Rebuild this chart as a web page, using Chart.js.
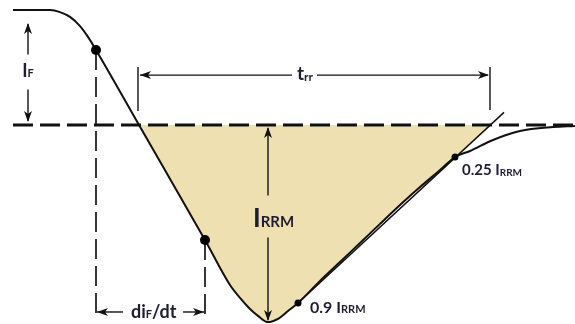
<!doctype html>
<html>
<head>
<title>Reverse recovery</title>
<script src="https://cdn.jsdelivr.net/npm/chart.js@4.4.1/dist/chart.umd.min.js"></script>
<style>
html, body { margin: 0; padding: 0; background: #fff; }
#wrap { width: 575px; height: 324px; }
</style>
</head>
<body>
<div id="wrap"><canvas id="canvas" width="575" height="324"></canvas></div>
<script>
// diode current during turn-off, t in ns, i in A
var timeNs   = [-12.6, -8.9, -7.9, -6.9, -5.9, -5.1, -4.3, 0, 6.6, 9.1, 10.1, 11.1, 11.9, 12.9, 13.9, 14.9, 15.9, 18.1, 20.1, 22.1, 24.1, 26.1, 28.1, 30.1, 31.6, 33.1, 35.4, 38.1, 41.4, 43.6];
var currentA = [5.0, 5.0, 4.91, 4.70, 4.30, 3.83, 3.26, 0, -5.0, -6.96, -7.52, -8.0, -8.30, -8.57, -8.43, -8.09, -7.74, -6.78, -5.96, -5.13, -4.30, -3.48, -2.70, -1.96, -1.39, -1.13, -0.65, -0.26, -0.09, -0.04];

// marked points: start/end of diF/dt, 0.9 IRRM, 0.25 IRRM
var dotTimes    = [-4.3, 6.6, 15.9, 31.6];
var dotCurrents = [3.26, -5.0, -7.74, -1.39];

// straight line through 0.9 and 0.25 IRRM, extended past zero
var tangentTimes    = [15.9, 36.5];
var tangentCurrents = [-7.74, 0.55];

var IF_A = 5.0;
var IRRM_A = 8.57;
var tRRM = 12.9;
var trrStart = 0;
var trrEnd = 35.1;

function pts(xs, ys) {
    var out = [];
    for (var k = 0; k < xs.length; k++) out.push({x: xs[k], y: ys[k]});
    return out;
}

// shaded charge area: curve from zero crossing to 0.25 IRRM, closed along the tangent
var shade = [{x: trrStart, y: 0}];
for (var k = 0; k < timeNs.length; k++) {
    if (timeNs[k] > trrStart && timeNs[k] <= dotTimes[3]) shade.push({x: timeNs[k], y: currentA[k]});
}
shade.push({x: trrEnd, y: 0});

var dimLow = -8.4;   // lower end of the vertical dashed guides

var ink = '#1e1e30';

var sketch = {
    id: 'sketch',
    afterDatasetsDraw: function(chart) {
        var ctx = chart.ctx, sx = chart.scales.x, sy = chart.scales.y;
        function px(t) { return sx.getPixelForValue(t); }
        function py(i) { return sy.getPixelForValue(i); }

        function seg(x1, y1, x2, y2) {
            ctx.beginPath(); ctx.moveTo(x1, y1); ctx.lineTo(x2, y2); ctx.stroke();
        }
        function head(x, y, dx, dy) {
            var len = 11, half = 4, notch = 3, nx = -dy, ny = dx;
            ctx.beginPath();
            ctx.moveTo(x, y);
            ctx.lineTo(x - dx * len + nx * half, y - dy * len + ny * half);
            ctx.lineTo(x - dx * (len - notch), y - dy * (len - notch));
            ctx.lineTo(x - dx * len - nx * half, y - dy * len - ny * half);
            ctx.closePath();
            ctx.fill();
        }
        function rich(parts, x, y, center) {
            var w = 0;
            parts.forEach(function(p) {
                ctx.font = '700 ' + p[1] + 'px Lato';
                w += ctx.measureText(p[0]).width;
            });
            if (center) x -= w / 2;
            parts.forEach(function(p) {
                ctx.font = '700 ' + p[1] + 'px Lato';
                ctx.fillText(p[0], x, y + (p[2] || 0));
                x += ctx.measureText(p[0]).width;
            });
        }

        ctx.save();
        ctx.strokeStyle = '#111';
        ctx.fillStyle = '#111';
        ctx.lineWidth = 1.4;

        var zero = py(0);

        // IF
        var xf = px(-11.1), top = py(IF_A), mid = (top + zero) / 2;
        seg(xf, top + 14, xf, mid - 13);
        head(xf, top + 13, 0, -1);
        seg(xf, mid + 22, xf, zero - 4);
        head(xf, zero - 3, 0, 1);

        // IRRM
        var xr = px(tRRM), bot = py(-IRRM_A), midr = (zero + bot) / 2;
        seg(xr, zero + 3, xr, midr - 28);
        head(xr, zero + 2, 0, -1);
        seg(xr, midr + 14, xr, bot - 2);
        head(xr, bot - 1, 0, 1);

        // trr
        var ya = py(2.17), x0 = px(trrStart) - 1, x1 = px(trrEnd), xl = px(15.8);
        seg(x0, ya - 8, x0, ya + 36);
        seg(x1, ya - 8, x1, ya + 35);
        seg(x0 + 2, ya, xl - 5, ya);
        seg(xl + 20, ya, x1 - 2, ya);
        head(x0 + 2, ya, -1, 0);
        head(x1 - 1, ya, 1, 0);

        // diF/dt
        var yd = py(-8.13), d0 = px(dotTimes[0]), d1 = px(dotTimes[1]);
        seg(d0 + 1, yd, d0 + 27, yd);
        seg(d1 - 22, yd, d1 - 1, yd);
        head(d0 + 1, yd, -1, 0);
        head(d1 - 1, yd, 1, 0);

        // labels
        ctx.fillStyle = ink;
        ctx.textBaseline = 'alphabetic';
        rich([['I', 18], ['F', 11]], xf, mid + 9, true);
        rich([['I', 26], ['RRM', 15]], xr - 15, midr + 3);
        rich([['t', 19], ['rr', 12, 1]], xl, ya + 5);
        rich([['di', 18], ['F', 11], ['/dt', 18]], d0 + 35, yd + 6);
        rich([['0.9 I', 16], ['RRM', 11]], px(dotTimes[2]) + 12, py(dotCurrents[2]) + 10);
        rich([['0.25 I', 15], ['RRM', 10, 1]], px(dotTimes[3]) + 7, py(dotCurrents[3]) + 18);
        ctx.restore();
    }
};

var config = {
    type: 'line',
    data: {
        datasets: [{
            data: shade,
            borderWidth: 0,
            pointRadius: 0,
            backgroundColor: 'rgb(239,224,178)',
            fill: 'origin',
            cubicInterpolationMode: 'monotone',
            order: 10
        }, {
            data: [{x: timeNs[0], y: 0}, {x: timeNs[timeNs.length - 1], y: 0}],
            borderColor: '#111',
            borderWidth: 3,
            borderDash: [20, 7],
            pointRadius: 0,
            order: 5
        }, {
            data: [{x: dotTimes[0], y: dotCurrents[0]}, {x: dotTimes[0], y: dimLow}],
            borderColor: '#222',
            borderWidth: 1.8,
            borderDash: [20, 7],
            pointRadius: 0,
            order: 5
        }, {
            data: [{x: dotTimes[1], y: dotCurrents[1]}, {x: dotTimes[1], y: dimLow}],
            borderColor: '#222',
            borderWidth: 1.8,
            borderDash: [20, 7],
            pointRadius: 0,
            order: 5
        }, {
            data: pts(tangentTimes, tangentCurrents),
            borderColor: '#111',
            borderWidth: 1.5,
            pointRadius: 0,
            order: 3
        }, {
            data: pts(timeNs, currentA),
            borderColor: '#111',
            borderWidth: 2,
            pointRadius: 0,
            cubicInterpolationMode: 'monotone',
            order: 2
        }, {
            data: pts(dotTimes, dotCurrents),
            showLine: false,
            pointRadius: [5, 5, 3.5, 3.5],
            pointBackgroundColor: '#000',
            pointBorderWidth: 0,
            order: 0
        }]
    },
    options: {
        responsive: false,
        animation: false,
        devicePixelRatio: 1,
        layout: { padding: 0, autoPadding: false },
        plugins: { legend: { display: false }, tooltip: { enabled: false } },
        scales: {
            x: { type: 'linear', min: -13.9, max: 43.6, display: false },
            y: { type: 'linear', min: -8.6522, max: 5.4348, display: false }
        }
    },
    plugins: [sketch]
};

window.myChart = new Chart(document.getElementById('canvas'), config);
</script>
</body>
</html>
